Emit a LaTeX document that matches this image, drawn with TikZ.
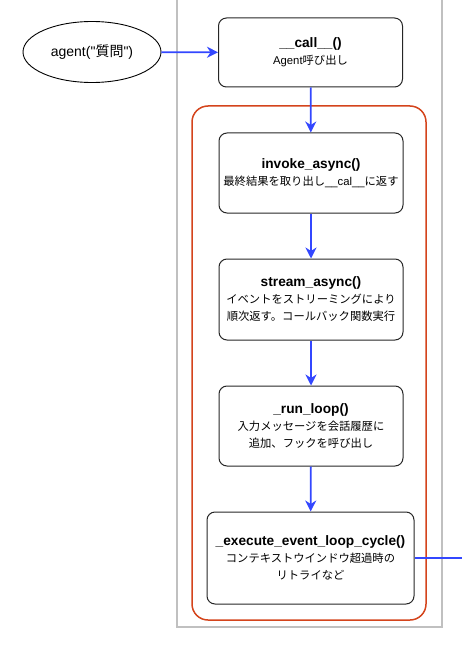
\documentclass[tikz,border=0pt]{standalone}
\usepackage{fontspec}
\setmainfont{Liberation Sans}
\newfontfamily\jpfont{Noto Sans CJK JP}
\usetikzlibrary{positioning, arrows.meta, shapes.geometric}
\definecolor{freccia}{HTML}{3347FF}
\definecolor{cornice}{HTML}{D4441C}
\definecolor{grigio}{HTML}{C0C0C0}
\newcommand{\jpt}[1]{{\jpfont #1}}
\newcommand{\titolo}[1]{{\bfseries\fontsize{13.7}{16}\selectfont #1}}
\tikzset{
	>={Stealth[length=11pt, width=11pt, inset=3.5pt]},
	% blocco con metodo e descrizione
	metodo/.style={draw=black!85, line width=1pt, rounded corners=8pt, minimum width=184pt,
	               minimum height=80pt, align=center, inner sep=2pt,
	               font=\fontsize{11.3}{17}\selectfont},
	% chiamata iniziale
	chiamata/.style={draw=black, line width=0.9pt, ellipse, minimum width=138pt, minimum height=61pt,
	                 font=\fontsize{14}{16}\selectfont},
	% freccia di flusso
	flusso/.style={->, line width=1.8pt, freccia},
}
\begin{document}
\begin{tikzpicture}[x=1pt, y=-1pt]
    \useasboundingbox (0,0) rectangle (461,647);
    % cornici
    \draw[grigio, line width=2pt] (177,-10) rectangle (442,627);
    \draw[cornice, line width=1.5pt, rounded corners=16pt] (192,106) rectangle (426,620);
    % ingresso
    \node[chiamata] (agent) at (92,52) {agent(\textquotedbl\jpt{質問}\textquotedbl)};
    % blocchi
    \node[metodo, minimum height=69pt] (call) at (310.5,52.5)
      {\titolo{\_\_call\_\_()}\\Agent\jpt{呼び出し}};
    \node[metodo] (invoke) at (311,173)
      {\titolo{invoke\_async()}\\\jpt{最終結果を取り出し}\_\_cal\_\_\jpt{に返す}};
    \node[metodo, minimum height=81pt] (stream) at (311,299.5)
      {\titolo{stream\_async()}\\\jpt{イベントをストリーミングにより}\\\jpt{順次返す。コールバック関数実行}};
    \node[metodo] (runloop) at (311,426)
      {\titolo{\_run\_loop()}\\\jpt{入力メッセージを会話履歴に}\\\jpt{追加、フックを呼び出し}};
    \node[metodo, minimum width=207pt, minimum height=92pt] (ciclo) at (310.5,558)
      {\titolo{\_execute\_event\_loop\_cycle()}\\\jpt{コンテキストウインドウ超過時の}\\\jpt{リトライなど}};
    % uscita verso destra
    \coordinate (uscita) at (465,558);
    % frecce
    \draw[flusso] (agent) -- (call);
    \draw[flusso] (call) -- (invoke);
    \draw[flusso] (invoke) -- (stream);
    \draw[flusso] (stream) -- (runloop);
    \draw[flusso] (runloop) -- (ciclo);
    \draw[line width=1.8pt, freccia] (ciclo) -- (uscita);
\end{tikzpicture}
\end{document}
